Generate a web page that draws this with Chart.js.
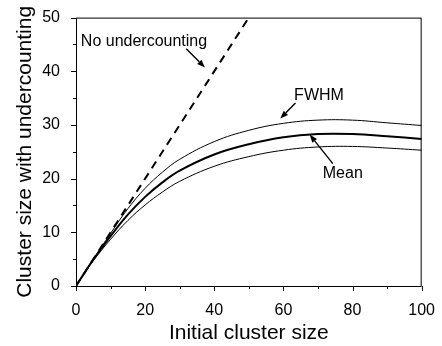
<!DOCTYPE html>
<html>
<head>
<meta charset="utf-8">
<script src="https://cdn.jsdelivr.net/npm/chart.js@4.4.1/dist/chart.umd.min.js"></script>
<style>
  html, body { margin: 0; padding: 0; background: #fff; }
  canvas { display: block; }
</style>
</head>
<body>
<canvas id="chart" width="442" height="346"></canvas>
<script>
// initial cluster size
const clusterSizes = [0, 2.5, 5, 10, 15, 20, 25, 30, 40, 50, 60, 70, 80, 90, 100];
// cluster size with undercounting
const meanSize  = [0, 2.5, 4.9, 9.3, 13.3, 16.6, 19.3, 21.5, 24.5, 26.4, 27.7, 28.3, 28.3, 27.9, 27.4];
const fwhmUpper = [0, 2.5, 5.0, 9.8, 14.4, 18.2, 21.2, 23.6, 26.9, 29.0, 30.3, 30.9, 30.9, 30.4, 29.9];
const fwhmLower = [0, 2.4, 4.7, 8.7, 12.2, 15.1, 17.5, 19.5, 22.3, 24.1, 25.3, 25.9, 26.0, 25.7, 25.3];
// no undercounting reference line
const idealX = [0, 50];
const idealY = [0, 50];

// annotations, in data coordinates
const noteTexts  = ['No undercounting', 'FWHM', 'Mean'];
const noteAnchor = [[1.4, 44.8], [63.1, 34.6], [71.4, 20.1]];
const arrowFrom  = [[31.9, 44.2], [63.5, 34.1], [74.3, 22.8]];
const arrowTo    = [[37.3, 40.7], [59.1, 31.2], [67.6, 28.2]];

const FONT = 'Arial, "Liberation Sans", sans-serif';

function toPoints(xs, ys) {
  return xs.map((x, i) => ({ x, y: ys[i] }));
}

const frameAndNotes = {
  id: 'frameAndNotes',
  afterDraw(chart) {
    const { ctx, chartArea: a, scales } = chart;
    const xs = scales.x, ys = scales.y;
    ctx.save();
    ctx.strokeStyle = '#000';
    ctx.fillStyle = '#000';
    ctx.lineWidth = 1;
    ctx.strokeRect(a.left + 0.5, a.top + 0.5, a.right - a.left - 1, a.bottom - a.top);

    // tick marks, outside the frame
    ctx.beginPath();
    xs.ticks.forEach(t => {
      const px = Math.round(xs.getPixelForValue(t.value)) + 0.5;
      const len = t.value % 20 === 0 ? 5 : 3;
      ctx.moveTo(px, a.bottom);
      ctx.lineTo(px, a.bottom + len);
    });
    ys.ticks.forEach(t => {
      const py = Math.round(ys.getPixelForValue(t.value)) + 0.5;
      const len = t.value % 10 === 0 ? 5 : 3;
      ctx.moveTo(a.left, py);
      ctx.lineTo(a.left - len, py);
    });
    ctx.stroke();

    // labels and arrows
    ctx.font = '16px ' + FONT;
    ctx.textAlign = 'left';
    ctx.textBaseline = 'alphabetic';
    noteTexts.forEach((txt, i) => {
      ctx.fillText(txt, xs.getPixelForValue(noteAnchor[i][0]), ys.getPixelForValue(noteAnchor[i][1]));
      const x0 = xs.getPixelForValue(arrowFrom[i][0]), y0 = ys.getPixelForValue(arrowFrom[i][1]);
      const x1 = xs.getPixelForValue(arrowTo[i][0]), y1 = ys.getPixelForValue(arrowTo[i][1]);
      const ang = Math.atan2(y1 - y0, x1 - x0);
      const head = 8, half = 3;
      ctx.lineWidth = 1.4;
      ctx.beginPath();
      ctx.moveTo(x0, y0);
      ctx.lineTo(x1 - head * Math.cos(ang), y1 - head * Math.sin(ang));
      ctx.stroke();
      ctx.beginPath();
      ctx.moveTo(x1, y1);
      ctx.lineTo(x1 - head * Math.cos(ang) + half * Math.sin(ang), y1 - head * Math.sin(ang) - half * Math.cos(ang));
      ctx.lineTo(x1 - head * Math.cos(ang) - half * Math.sin(ang), y1 - head * Math.sin(ang) + half * Math.cos(ang));
      ctx.closePath();
      ctx.fill();
    });
    ctx.restore();
  }
};

const ctx = document.getElementById('chart').getContext('2d');
new Chart(ctx, {
  type: 'line',
  data: {
    datasets: [
      {
        label: 'No undercounting',
        data: toPoints(idealX, idealY),
        borderColor: '#000',
        borderWidth: 2,
        borderDash: [8, 6],
        pointRadius: 0,
        tension: 0
      },
      {
        label: 'FWHM upper',
        data: toPoints(clusterSizes, fwhmUpper),
        borderColor: '#000',
        borderWidth: 1,
        pointRadius: 0,
        tension: 0.4
      },
      {
        label: 'Mean',
        data: toPoints(clusterSizes, meanSize),
        borderColor: '#000',
        borderWidth: 2,
        pointRadius: 0,
        tension: 0.4
      },
      {
        label: 'FWHM lower',
        data: toPoints(clusterSizes, fwhmLower),
        borderColor: '#000',
        borderWidth: 1,
        pointRadius: 0,
        tension: 0.4
      }
    ]
  },
  options: {
    responsive: false,
    animation: false,
    events: [],
    layout: { padding: { left: 0, right: 16, top: 17, bottom: 0 } },
    plugins: {
      legend: { display: false },
      tooltip: { enabled: false }
    },
    scales: {
      x: {
        type: 'linear',
        min: 0,
        max: 100,
        grid: { display: false },
        border: { display: false },
        ticks: {
          stepSize: 10,
          autoSkip: false,
          maxRotation: 0,
          padding: 7,
          color: '#000',
          font: { family: FONT, size: 16 },
          callback: v => (v % 20 === 0 ? v : '')
        },
        title: {
          display: true,
          text: 'Initial cluster size',
          color: '#000',
          font: { family: FONT, size: 21 },
          padding: { top: 0, bottom: 0 }
        },
        afterFit: s => { s.height = 60; }
      },
      y: {
        min: 0,
        max: 50,
        grid: { display: false },
        border: { display: false },
        ticks: {
          stepSize: 5,
          autoSkip: false,
          padding: 8,
          color: '#000',
          font: { family: FONT, size: 16 },
          callback: v => (v % 10 === 0 ? v : '')
        },
        title: {
          display: true,
          text: 'Cluster size with undercounting',
          color: '#000',
          font: { family: FONT, size: 21 },
          padding: { top: 13, bottom: 0 }
        },
        afterFit: s => { s.width = 76; }
      }
    }
  },
  plugins: [frameAndNotes]
});
</script>
</body>
</html>
